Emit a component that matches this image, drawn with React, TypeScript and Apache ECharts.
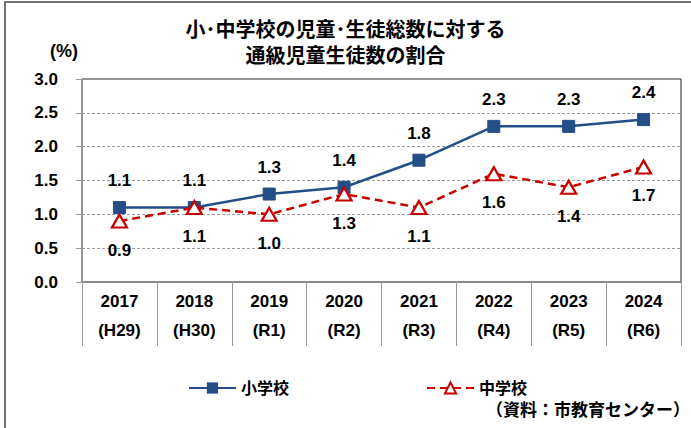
import React, { useEffect, useRef } from "react";
import * as echarts from "echarts";

const years = ["2017", "2018", "2019", "2020", "2021", "2022", "2023", "2024"];
const eras = ["(H29)", "(H30)", "(R1)", "(R2)", "(R3)", "(R4)", "(R5)", "(R6)"];
const elementary = [1.1, 1.1, 1.3, 1.4, 1.8, 2.3, 2.3, 2.4];
const juniorHigh = [0.9, 1.1, 1.0, 1.3, 1.1, 1.6, 1.4, 1.7];
const titleLines = ["小･中学校の児童･生徒総数に対する", "通級児童生徒数の割合"];
const seriesNames = ["小学校", "中学校"];
const sourceText = "（資料：市教育センター）";

const FONT = "'Liberation Sans', 'Noto Sans CJK JP', sans-serif";
const BLUE = "#234E86";
const RED = "#C80000";

export default function App() {
  const ref = useRef<HTMLDivElement>(null);
  useEffect(() => {
    if (!ref.current) return;
    const chart = echarts.init(ref.current, undefined, { renderer: "svg" });
    const categories = years.map((y, i) => y + "\n" + eras[i]);
    chart.setOption({
      animation: false,
      backgroundColor: "#ffffff",
      textStyle: { fontFamily: FONT },
      title: {
        text: titleLines.join("\n"),
        left: "center",
        top: 12,
        textStyle: {
          fontFamily: FONT,
          fontSize: 20,
          fontWeight: "bold",
          color: "#000",
          lineHeight: 26,
        },
      },
      legend: {
        left: 183,
        top: 375,
        itemWidth: 47,
        itemHeight: 14,
        itemGap: 137,
        textStyle: { fontFamily: FONT, fontSize: 16, fontWeight: "bold", color: "#000" },
        data: seriesNames,
      },
      grid: {
        left: 82,
        right: 10,
        top: 79,
        bottom: 146,
        show: true,
        borderColor: "#222",
        borderWidth: 1,
        backgroundColor: "transparent",
      },
      xAxis: {
        type: "category",
        data: categories,
        boundaryGap: true,
        axisLine: { lineStyle: { color: "#888", width: 1.5 } },
        axisTick: { show: true, length: 64, lineStyle: { color: "#999", width: 1 } },
        axisLabel: {
          margin: 5,
          fontFamily: FONT,
          fontSize: 17,
          fontWeight: "bold",
          color: "#000",
          lineHeight: 29,
        },
      },
      yAxis: {
        type: "value",
        min: 0,
        max: 3,
        interval: 0.5,
        axisLine: { show: true, lineStyle: { color: "#999", width: 1.5 } },
        axisTick: { show: true, length: 6, lineStyle: { color: "#999" } },
        axisLabel: {
          margin: 24,
          fontFamily: FONT,
          fontSize: 17,
          fontWeight: "bold",
          color: "#000",
          formatter: (v: number) => v.toFixed(1),
        },
        splitLine: { show: true, lineStyle: { color: "#9a9a9a", type: [3, 2], width: 1 } },
      },
      series: [
        {
          name: seriesNames[0],
          type: "line",
          data: elementary,
          symbol: "rect",
          symbolSize: 12,
          itemStyle: { color: BLUE, borderColor: BLUE },
          lineStyle: { color: BLUE, width: 2.5 },
          label: {
            show: true,
            position: "top",
            distance: 12,
            fontFamily: FONT,
            fontSize: 17,
            fontWeight: "bold",
            color: "#000",
            formatter: (p: any) => Number(p.value).toFixed(1),
          },
          z: 3,
        },
        {
          name: seriesNames[1],
          type: "line",
          data: juniorHigh,
          symbol: "triangle",
          symbolSize: [15, 13],
          itemStyle: { color: "#ffffff", borderColor: RED, borderWidth: 2.2 },
          lineStyle: { color: RED, width: 2.5, type: [8, 5] },
          label: {
            show: true,
            position: "bottom",
            distance: 13,
            fontFamily: FONT,
            fontSize: 17,
            fontWeight: "bold",
            color: "#000",
            formatter: (p: any) => Number(p.value).toFixed(1),
          },
          z: 4,
        },
      ],
      graphic: [
        {
          type: "rect",
          shape: { x: 5, y: 2, width: 720, height: 460 },
          style: { fill: "none", stroke: "#444", lineWidth: 1.5 },
          silent: true,
        },
        {
          type: "text",
          x: 64,
          y: 51,
          style: {
            text: "(%)",
            fontFamily: FONT,
            fontSize: 18,
            fontWeight: "bold",
            fill: "#000",
            align: "center",
            verticalAlign: "middle",
          },
        },
        {
          type: "text",
          x: 690,
          y: 410,
          style: {
            text: sourceText,
            fontFamily: FONT,
            fontSize: 17,
            fontWeight: "bold",
            fill: "#000",
            align: "right",
            verticalAlign: "middle",
          },
        },
      ],
    });
    return () => chart.dispose();
  }, []);
  return (
    <div
      ref={ref}
      style={{ position: "fixed", left: 0, top: 0, width: 691, height: 428 }}
    />
  );
}
